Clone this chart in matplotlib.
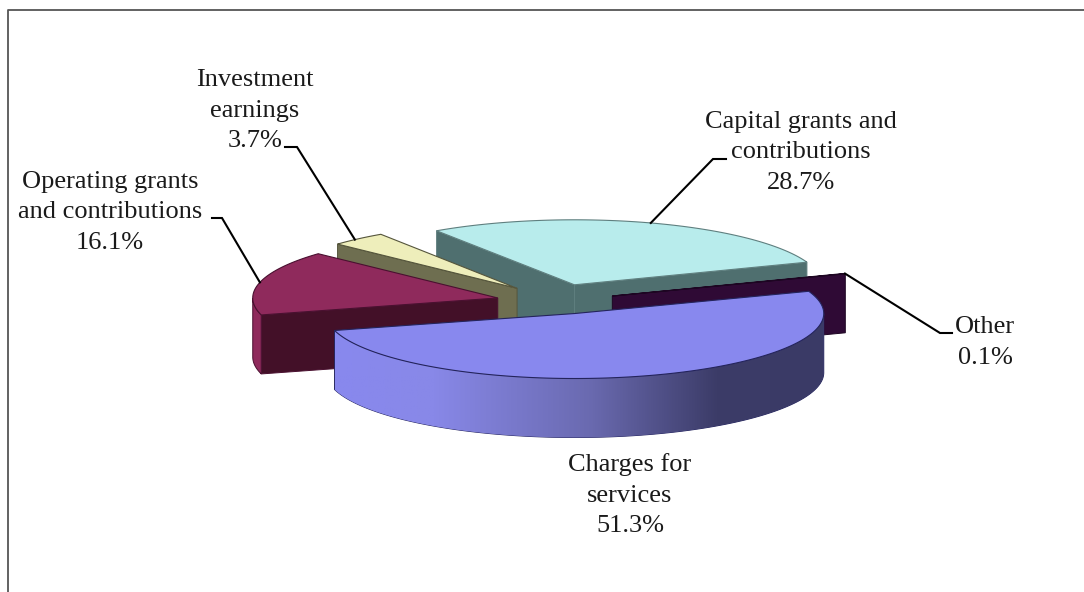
#!/usr/bin/env python3
# -*- coding: utf-8 -*-
"""
Exploded 3D pie of revenue sources, drawn slice by slice in pixel coordinates.
"""
import numpy as np
import matplotlib.pyplot as plt
from matplotlib.colors import LinearSegmentedColormap
from matplotlib.patches import Polygon

# slices run clockwise from the start angle
labels = ['Charges for\nservices', 'Operating grants\nand contributions',
          'Investment\nearnings', 'Capital grants and\ncontributions',
          'Other']
values = [51.3, 16.1, 3.7, 28.7, 0.1]

top_colors = ['#8888ee', '#8f2a5c', '#eeeebb', '#b8ecec', '#2f0a35']
wall_colors = ['#8888ee', '#8f2a5c', '#6e6e50', '#4f6f6f', '#2f0a35']
face_colors = ['#3a3a68', '#431028', '#6e6e50', '#4f6f6f', '#2f0a35']
edge_colors = ['#24245c', '#4a1030', '#55553c', '#5f7f7f', '#1d0522']

# per slice scaling of the explosion, horizontally and vertically
explode_x = [1.04, 1, 1, 1, 1]
explode_y = [0.63, 1, 1, 1, 1]
radius_x = [1.016, 1, 1, 1.012, 1.012]

# painter's order, back to front
draw_order = [3, 2, 1, 4, 0]

# label centre (x, y of first line) and leader elbow points
label_pos = [(630, 465), (110, 182), (255, 80), (801, 122), (985, 327)]
leaders = [None,
           [(212, 218), (222, 218)],
           [(285, 147), (297, 147)],
           [(726, 159), (713, 159)],
           [(952, 333), (940, 333)]]
leader_angle_shift = [0, 0, 1, 0, 0]

CX, CY = 556.0, 302.4
RX, RY = 245.0, 65.0
DEPTH = 59.0
BLOW_X, BLOW_Y = 60.0, 18.5
START_ANGLE = 20.0
LINE_SPACING = 30.5

plt.rcParams['font.family'] = ['Liberation Serif', 'DejaVu Serif']

fig = plt.figure(figsize=(10.84, 5.92), dpi=100, facecolor='white')
ax = fig.add_axes([0, 0, 1, 1])
ax.set_xlim(0, 1084)
ax.set_ylim(592, 0)
ax.axis('off')

# chart border: only left and top sides show
ax.plot([8, 8, 1084], [592, 10, 10], color='#555555', lw=1.3, zorder=1)


def rim(centre, angle, scale=1.0, drop=0.0):
    """Points on the slice rim for angles in degrees."""
    rad = np.radians(angle)
    return np.column_stack((centre[0] + RX * scale * np.cos(rad),
                            centre[1] - RY * np.sin(rad) + drop))


spans = 360.0 * np.array(values) / np.sum(values)
highs = START_ANGLE - np.concatenate(([0.0], np.cumsum(spans)[:-1]))
lows = highs - spans
mids = (highs + lows) / 2.0

centres = []
for i in range(len(values)):
    rad = np.radians(mids[i])
    centres.append((CX + BLOW_X * explode_x[i] * np.cos(rad),
                    CY - BLOW_Y * explode_y[i] * np.sin(rad)))

wall_cmap = LinearSegmentedColormap.from_list(
    'wall', [(0.0, '#8888ee'), (0.2, '#8888e8'), (0.52, '#6a6ab0'),
             (0.78, '#3c3c68'), (1.0, '#3a3a66')])

z = 2
for i in draw_order:
    hi, lo = highs[i], lows[i]
    c = centres[i]
    s = radius_x[i]

    # radial cut faces, only those turned towards the viewer
    for end, seen in ((lo, np.cos(np.radians(lo)) > 0),
                      (hi, np.cos(np.radians(hi)) < 0)):
        if seen:
            edge = rim(c, np.array([end]), s)[0]
            ax.add_patch(Polygon([c, edge, (edge[0], edge[1] + DEPTH),
                                  (c[0], c[1] + DEPTH)],
                                 fc=face_colors[i], ec=edge_colors[i],
                                 lw=0.7, zorder=z))
            z += 1

    # outer wall, front half of the arc only
    arc = np.linspace(lo, hi, 240)
    arc = arc[np.sin(np.radians(arc)) < 0]
    if arc.size > 1:
        upper = rim(c, arc, s)
        lower = rim(c, arc, s, DEPTH)
        wall = Polygon(np.vstack((upper, lower[::-1])), fc=wall_colors[i],
                       ec=edge_colors[i], lw=0.7, zorder=z)
        ax.add_patch(wall)
        z += 1
        if i == 0:
            shade = ax.imshow(np.linspace(0, 1, 256).reshape(1, -1),
                              cmap=wall_cmap, aspect='auto',
                              extent=(upper[:, 0].min(), upper[:, 0].max(),
                                      lower[:, 1].max(), upper[:, 1].min()),
                              zorder=z)
            shade.set_clip_path(wall)
            z += 1

    # top surface
    top = np.vstack(([c], rim(c, np.linspace(lo, hi, 240), s)))
    ax.add_patch(Polygon(top, fc=top_colors[i], ec=edge_colors[i],
                         lw=0.8, zorder=z))
    z += 1

ax.set_xlim(0, 1084)
ax.set_ylim(592, 0)

# labels and leader lines
for i, label in enumerate(labels):
    lines = label.split('\n') + [f'{values[i]}%']
    x, y = label_pos[i]
    for k, line in enumerate(lines):
        ax.text(x, y + k * LINE_SPACING, line, ha='center', va='center',
                fontsize=19, color='#1a1a1a', zorder=z)
    if leaders[i] is not None:
        tip = rim(centres[i], np.array([mids[i] + leader_angle_shift[i]]),
                  radius_x[i])[0]
        path = np.array(leaders[i] + [tuple(tip)])
        ax.plot(path[:, 0], path[:, 1], color='black', lw=1.5,
                solid_joinstyle='miter', zorder=z)

fig.savefig('out.png', dpi=100)
plt.close(fig)
